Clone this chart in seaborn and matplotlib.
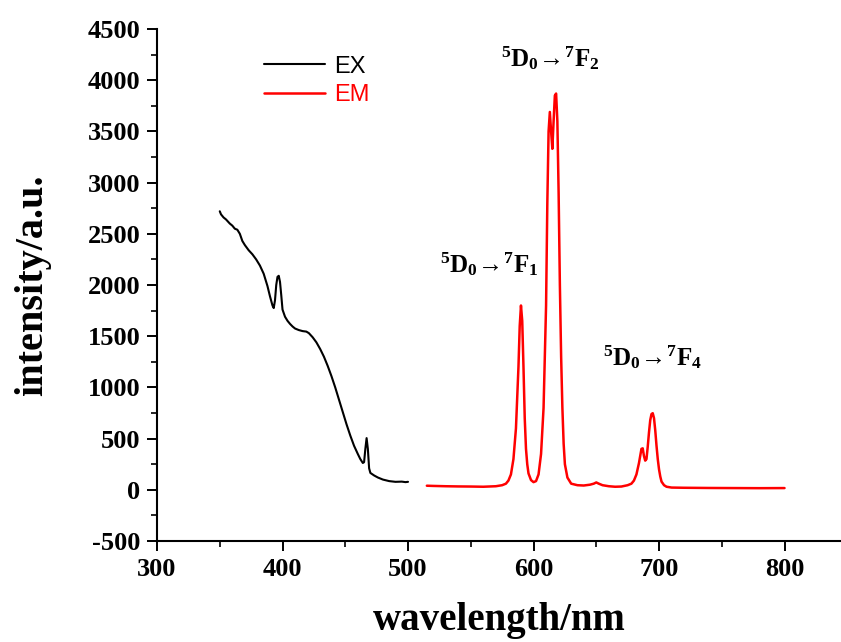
import matplotlib
matplotlib.use('Agg')

import pandas as pd
import seaborn as sns
import matplotlib.pyplot as plt
from matplotlib.ticker import MultipleLocator

# excitation spectrum
ex_nm = [350, 351, 353, 355, 358, 360, 362, 364, 366, 368, 370, 373, 376, 379,
         382, 385, 388, 390, 392, 393, 394, 395, 396, 397, 398, 399, 400, 402,
         404, 406, 408, 410, 413, 416, 419, 421, 424, 427, 430, 433, 436, 439,
         442, 445, 448, 451, 454, 457, 460, 462, 464, 465, 466, 467, 468, 469,
         470, 473, 476, 480, 485, 490, 495, 498, 500]
ex_int = [2720, 2690, 2660, 2640, 2600, 2580, 2550, 2540, 2500, 2430, 2390, 2340,
          2300, 2250, 2190, 2110, 1990, 1890, 1800, 1775, 1850, 2000, 2080, 2090,
          2030, 1900, 1760, 1690, 1650, 1620, 1595, 1575, 1560, 1550, 1545, 1530,
          1490, 1440, 1375, 1300, 1210, 1110, 1000, 880, 760, 640, 530, 430, 350,
          300, 262, 270, 400, 505, 400, 210, 165, 140, 120, 100, 85, 78, 80, 75, 78]

# emission spectrum
em_nm = [515, 520, 530, 540, 550, 560, 570, 575, 578, 580, 582, 584, 586, 588,
         589, 590, 591, 592, 593, 594, 595, 596, 598, 600, 602, 604, 606, 608,
         610, 611, 612, 613, 614, 615, 616, 617, 618, 619, 620, 621, 622, 623,
         624, 625, 627, 630, 635, 640, 645, 648, 650, 652, 655, 660, 665, 670,
         675, 678, 680, 682, 684, 686, 687, 688, 689, 690, 691, 692, 693, 694,
         695, 696, 697, 698, 699, 700, 701, 702, 704, 706, 710, 720, 740, 760,
         780, 800]
em_int = [40, 38, 35, 33, 32, 30, 35, 45, 60, 90, 150, 300, 600, 1200, 1600,
          1800, 1650, 1200, 700, 400, 250, 160, 95, 75, 85, 150, 350, 800, 1800,
          2800, 3500, 3690, 3500, 3330, 3600, 3850, 3870, 3600, 2900, 2000, 1300,
          800, 450, 250, 120, 60, 45, 42, 50, 60, 72, 60, 45, 35, 30, 32, 45, 60,
          90, 150, 260, 400, 405, 330, 285, 300, 420, 560, 680, 740, 748, 700,
          580, 430, 300, 200, 130, 80, 45, 30, 22, 20, 18, 17, 16, 17]

ex = pd.DataFrame({'wavelength': ex_nm, 'intensity': ex_int})
em = pd.DataFrame({'wavelength': em_nm, 'intensity': em_int})

sns.set_style('ticks')
plt.rcParams['font.family'] = ['Liberation Serif', 'DejaVu Serif']
plt.rcParams['text.color'] = 'black'
plt.rcParams['axes.labelcolor'] = 'black'
plt.rcParams['xtick.color'] = 'black'
plt.rcParams['ytick.color'] = 'black'
plt.rcParams['axes.edgecolor'] = 'black'
plt.rcParams['axes.unicode_minus'] = False
plt.rcParams['mathtext.fontset'] = 'custom'
plt.rcParams['mathtext.rm'] = 'Liberation Serif:bold'
plt.rcParams['mathtext.bf'] = 'Liberation Serif:bold'
plt.rcParams['mathtext.it'] = 'Liberation Serif:bold'

fig = plt.figure(figsize=(8.41, 6.42), dpi=100)
ax = fig.add_axes([0.1867, 0.1573, 0.8133, 0.7975])

sns.lineplot(x='wavelength', y='intensity', data=ex, color='black', lw=1.5,
             ax=ax, label='EX')
sns.lineplot(x='wavelength', y='intensity', data=em, color='red', lw=1.8,
             ax=ax, label='EM')

ax.set_xlim(300, 845)
ax.set_ylim(-500, 4500)
ax.xaxis.set_major_locator(MultipleLocator(100))
ax.xaxis.set_minor_locator(MultipleLocator(50))
ax.yaxis.set_major_locator(MultipleLocator(500))
ax.yaxis.set_minor_locator(MultipleLocator(250))
ax.tick_params(which='major', length=7, width=1.4, direction='out',
               labelsize=19, pad=5)
ax.tick_params(which='minor', length=4, width=1.2, direction='out')
for lab in ax.get_xticklabels() + ax.get_yticklabels():
    lab.set_fontweight('bold')

sns.despine(ax=ax)
for s in ['left', 'bottom']:
    ax.spines[s].set_linewidth(1.5)

ax.set_xlabel('wavelength/nm', fontsize=28, fontweight='bold', labelpad=15)
ax.set_ylabel('intensity/a.u.', fontsize=29, fontweight='bold', labelpad=26)

# transition labels
lab_kw = dict(fontsize=18, ha='center', va='center')
ax.text(613, 4220, r'$^{5}\mathrm{D}_{0}\!\rightarrow\!{}^{7}\mathrm{F}_{2}$', **lab_kw)
ax.text(565, 2200, r'$^{5}\mathrm{D}_{0}\!\rightarrow\!{}^{7}\mathrm{F}_{1}$', **lab_kw)
ax.text(695, 1300, r'$^{5}\mathrm{D}_{0}\!\rightarrow\!{}^{7}\mathrm{F}_{4}$', **lab_kw)

leg = ax.legend(loc='upper left', bbox_to_anchor=(0.1564, 0.948), frameon=False,
                borderpad=0, borderaxespad=0,
                handlelength=2.6, handletextpad=0.35, labelspacing=0.28,
                prop={'family': 'Liberation Sans', 'size': 17})
for txt, line in zip(leg.get_texts(), leg.get_lines()):
    txt.set_color(line.get_color())

plt.savefig('out.png', dpi=100)
